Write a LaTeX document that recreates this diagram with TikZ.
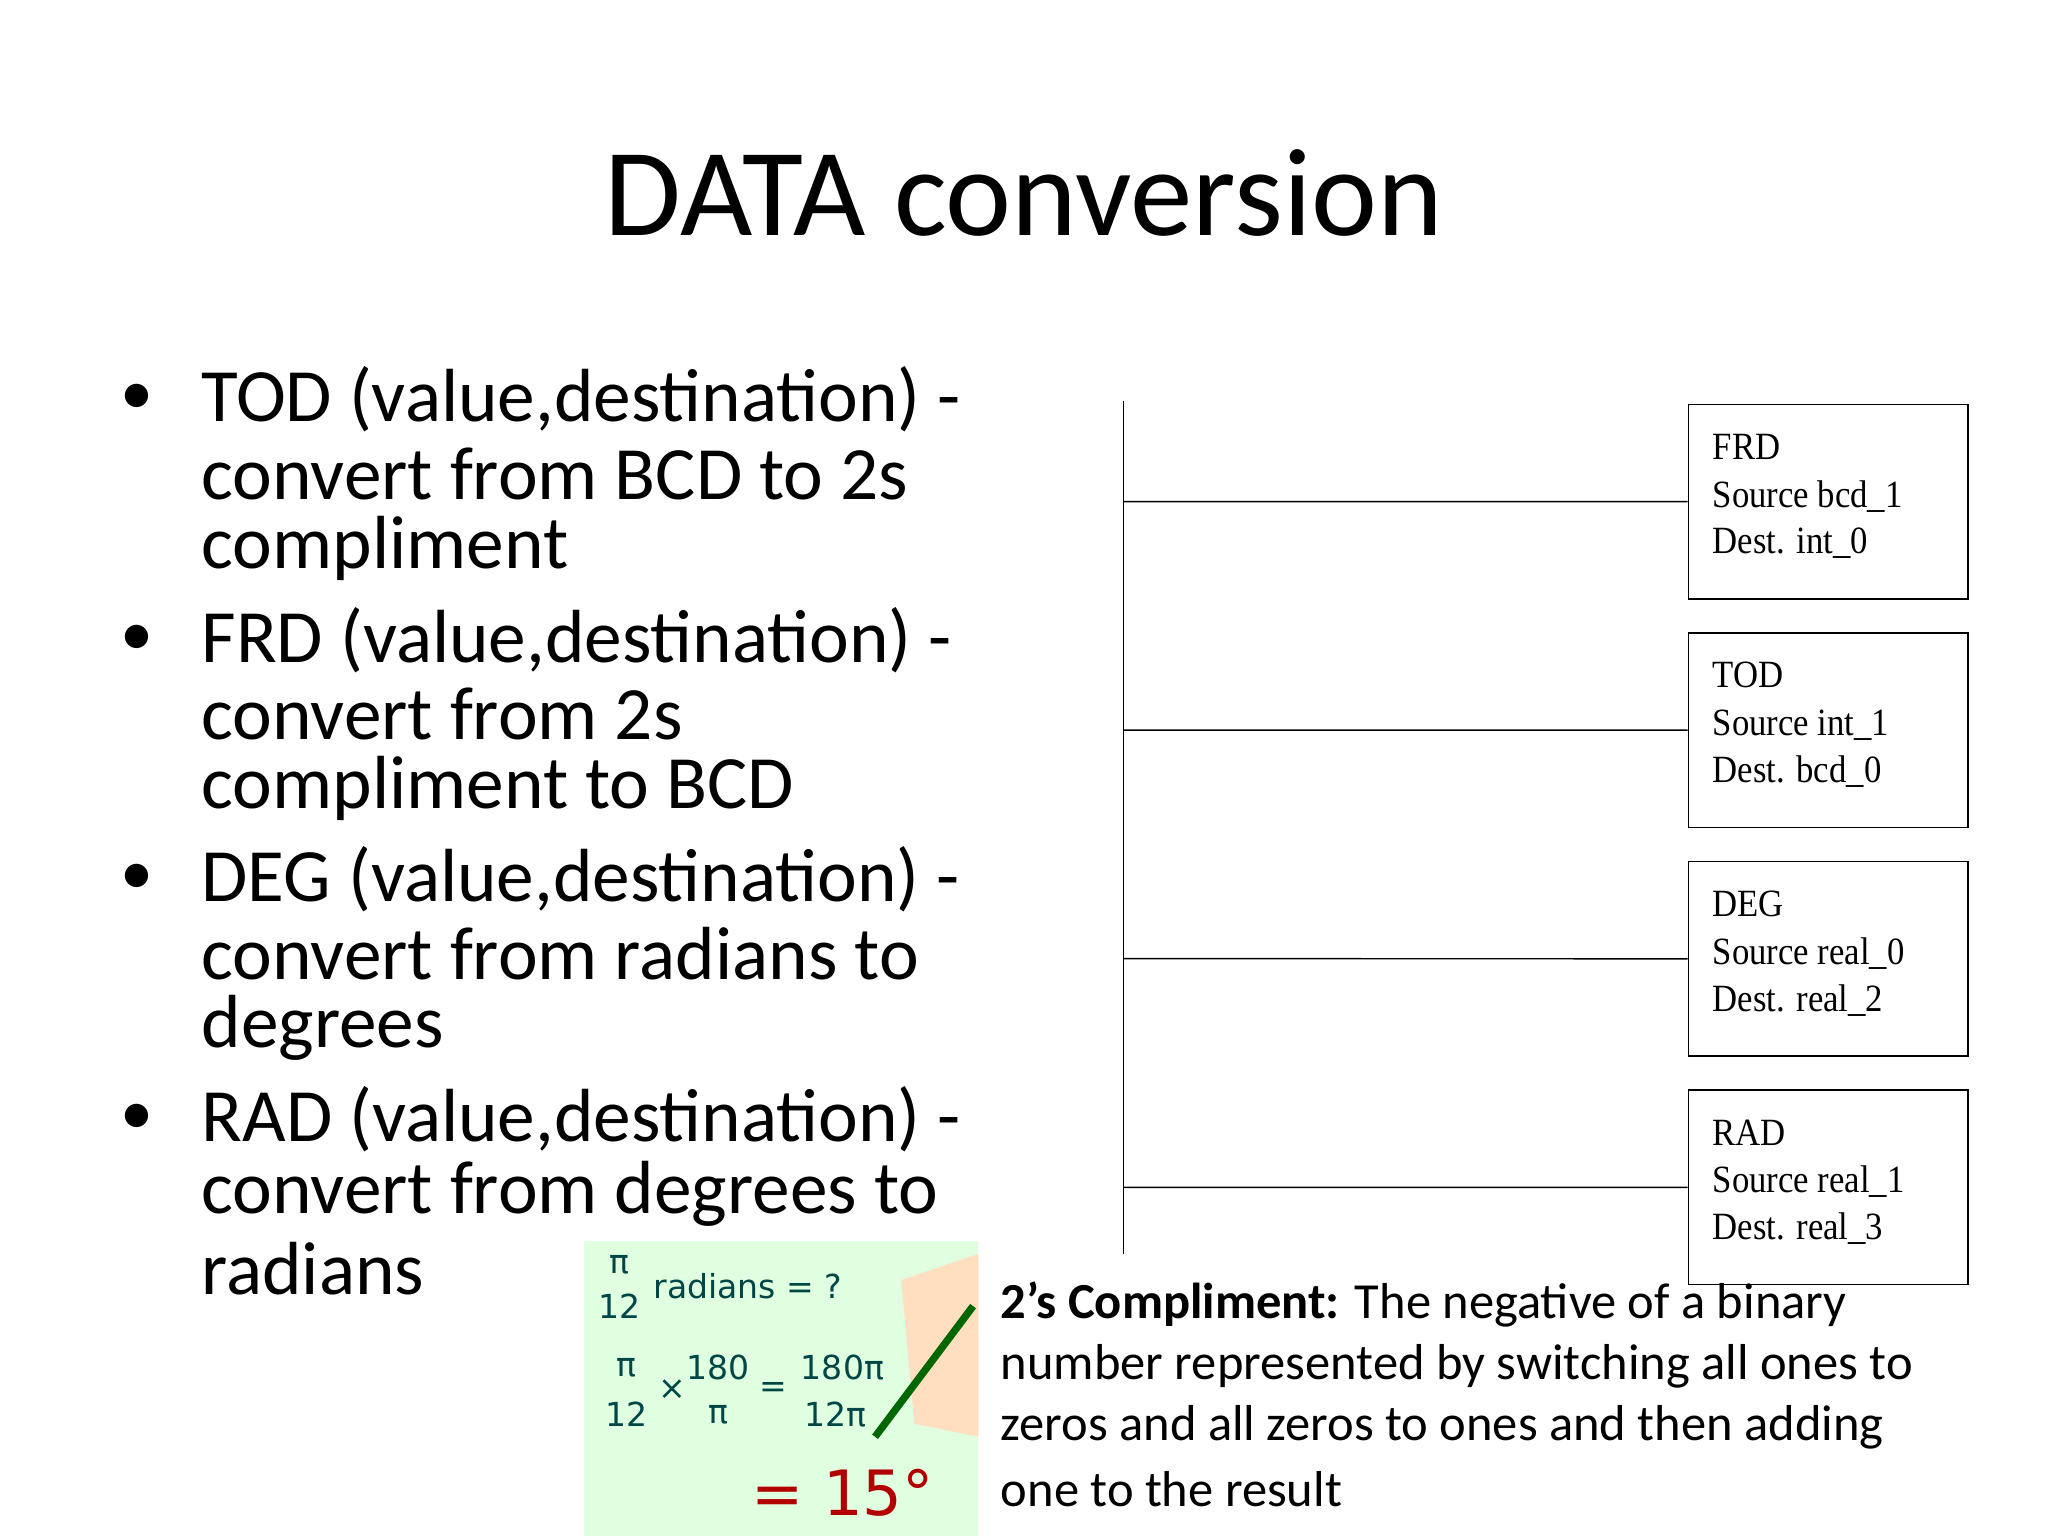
\documentclass[tikz,border=0pt]{standalone}
\usepackage{fontspec}
\setmainfont{Carlito}
\newfontfamily\boxfont[FakeStretch=0.9]{Liberation Serif}
\newfontfamily\mathish{DejaVu Sans}
\begin{document}
\begin{tikzpicture}[x=0.025cm,y=-0.025cm,
  bul/.style={anchor=west,font=\fontsize{41}{48}\selectfont,inner sep=0},
  btxt/.style={anchor=west,font=\fontsize{36}{40}\selectfont,inner sep=0},
  lbox/.style={draw,line width=0.8pt},
  ltxt/.style={anchor=west,font=\boxfont\fontsize{21}{25}\selectfont,inner sep=0},
  note/.style={anchor=west,font=\fontsize{27.5}{32}\selectfont,inner sep=0},
  img/.style={font=\mathish\fontsize{18}{22}\selectfont,text=black!45!teal,inner sep=0}]
\useasboundingbox (0,0) rectangle (1568,1176);
\fill[white] (0,0) rectangle (1568,1176);
\node[font=\fontsize{68}{78}\selectfont,inner sep=0] (title) at (784,148) {DATA conversion};
% bullets
\foreach \y/\a/\b/\c in {306/{TOD (value,destination) -}/{convert from BCD to 2s}/{compliment},
  490/{FRD (value,destination) -}/{convert from 2s}/{compliment to BCD},
  673/{DEG (value,destination) -}/{convert from radians to}/{degrees},
  857/{RAD (value,destination) -}/{convert from degrees to}/{radians}}{
  \node[btxt] at (92,\y) {•};
  \node[bul] at (154,\y) {\a};
  \node[bul] at (154,\y+57) {\b};
  \node[bul] at (154,\y+114) {\c};
}
% ladder
\coordinate (rtop) at (860,307);
\coordinate (rbot) at (860,960);
\draw[line width=0.8pt] (rtop) -- (rbot);
\foreach \n/\y/\op/\s/\d in {1/309/FRD/{Source bcd\_1}/{Dest. int\_0},
  2/484/TOD/{Source int\_1}/{Dest. bcd\_0},
  3/659/DEG/{Source real\_0}/{Dest. real\_2},
  4/834/RAD/{Source real\_1}/{Dest. real\_3}}{
  \node[lbox,minimum width=214*0.025cm,minimum height=149*0.025cm,anchor=north west,inner sep=0] (b\n) at (1292,\y) {};
  \coordinate (r\n) at (860,\y+75);
  \draw[line width=0.8pt] (r\n) -- (b\n.west);
  \node[ltxt] at (1311,\y+33) {\op};
  \node[ltxt] at (1311,\y+71) {\s};
  \node[ltxt] at (1311,\y+107) {\d};
}
% image approximation
\fill[green!12!white] (447,950) rectangle (749,1176);
\node[img] at (474,968) {π};
\node[img] at (474,1000) {12};
\node[img,anchor=west] at (500,985) {radians = ?};
\node[img] at (480,1047) {π};
\node[img] at (480,1083) {12};
\node[img] at (515,1064) {×};
\node[img] at (550,1047) {180};
\node[img] at (550,1083) {π};
\node[img] at (592,1064) {=};
\node[img] at (645,1047) {180π};
\node[img] at (640,1083) {12π};
\node[img,font=\mathish\fontsize{34}{40}\selectfont,text=red!70!black] at (645,1143) {= 15°};
\fill[orange!25!white] (690,980) -- (749,960) -- (749,1100) -- (700,1090) -- cycle;
\draw[green!40!black,line width=4pt] (745,1000) -- (670,1100);
% note
\node[note] at (766,999) {\textbf{2’s Compliment:} The negative of a binary};
\node[note] at (766,1046) {number represented by switching all ones to};
\node[note] at (766,1093) {zeros and all zeros to ones and then adding};
\node[note] at (766,1140) {one to the result};
\end{tikzpicture}
\end{document}
